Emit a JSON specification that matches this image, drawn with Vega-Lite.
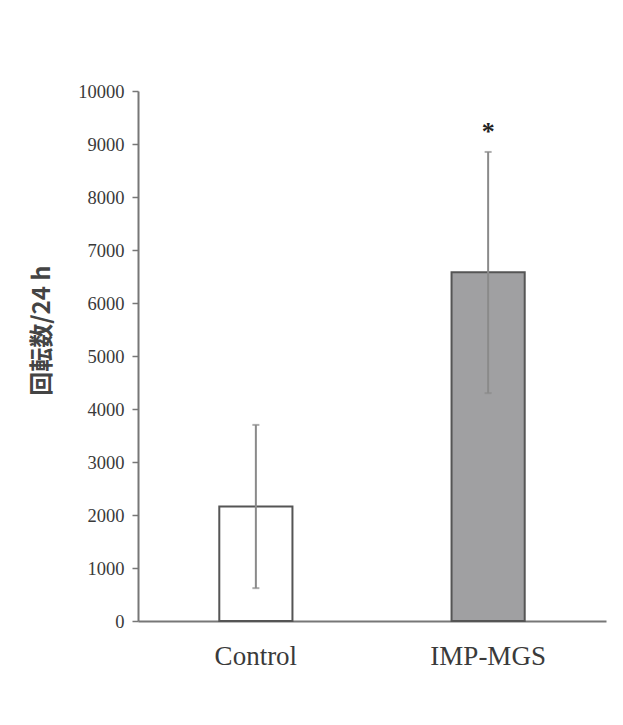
{
  "$schema": "https://vega.github.io/schema/vega-lite/v6.json",
  "width": 468,
  "height": 530,
  "autosize": "none",
  "padding": {"left": 138, "top": 91, "right": 17, "bottom": 104},
  "background": "white",
  "config": {"view": {"stroke": null}},
  "data": {
    "values": [
      {"group": "Control", "mean": 2160, "lo": 620, "hi": 3700, "sig": ""},
      {"group": "IMP-MGS", "mean": 6580, "lo": 4300, "hi": 8850, "sig": "*"}
    ]
  },
  "encoding": {
    "x": {
      "field": "group",
      "type": "nominal",
      "sort": null,
      "scale": {"paddingInner": 0.685, "paddingOuter": 0.35},
      "axis": {
        "title": null,
        "labelAngle": 0,
        "ticks": false,
        "labelPadding": 22,
        "labelFont": "Liberation Serif",
        "labelFontSize": 27,
        "labelColor": "#3a3a3a",
        "domainColor": "#777777",
        "domainWidth": 2
      }
    }
  },
  "layer": [
    {
      "mark": {"type": "bar", "stroke": "#555555", "strokeWidth": 2},
      "encoding": {
        "y": {
          "field": "mean",
          "type": "quantitative",
          "scale": {"domain": [0, 10000], "nice": false},
          "axis": {
            "values": [0, 1000, 2000, 3000, 4000, 5000, 6000, 7000, 8000, 9000, 10000],
            "grid": false,
            "format": "d",
            "labelFont": "Liberation Serif",
            "labelFontSize": 18.5,
            "labelColor": "#3a3a3a",
            "labelPadding": 8,
            "tickSize": 6,
            "tickColor": "#777777",
            "tickWidth": 1.5,
            "domainColor": "#777777",
            "domainWidth": 2,
            "title": "回転数/24 h",
            "titleFont": "Noto Sans CJK JP",
            "titleFontSize": 24,
            "titleFontWeight": "bold",
            "titleColor": "#444444",
            "titleAngle": -90,
            "titleX": -96,
            "titleY": 239,
            "titleAlign": "center",
            "titleBaseline": "middle"
          }
        },
        "color": {
          "field": "group",
          "type": "nominal",
          "scale": {"domain": ["Control", "IMP-MGS"], "range": ["#ffffff", "#a0a0a2"]},
          "legend": null
        }
      }
    },
    {
      "mark": {"type": "rule", "color": "#8a8a8a", "strokeWidth": 2},
      "encoding": {
        "y": {"field": "lo", "type": "quantitative"},
        "y2": {"field": "hi"}
      }
    },
    {
      "mark": {"type": "tick", "orient": "horizontal", "color": "#8a8a8a", "size": 7, "thickness": 2},
      "encoding": {"y": {"field": "lo", "type": "quantitative"}}
    },
    {
      "mark": {"type": "tick", "orient": "horizontal", "color": "#8a8a8a", "size": 7, "thickness": 2},
      "encoding": {"y": {"field": "hi", "type": "quantitative"}}
    },
    {
      "mark": {"type": "text", "font": "Liberation Serif", "fontSize": 26, "fontWeight": "bold", "color": "#222222", "baseline": "middle", "dy": 8},
      "encoding": {
        "y": {"datum": 9370, "type": "quantitative"},
        "text": {"field": "sig"}
      }
    }
  ]
}
